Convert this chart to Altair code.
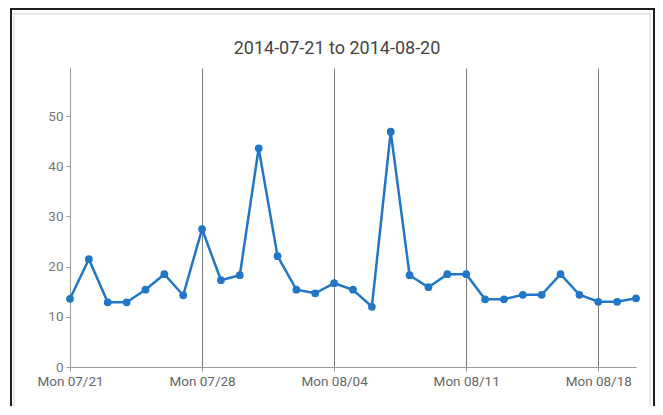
import altair as alt
import pandas as pd

dates = ["2014-07-21", "2014-07-22", "2014-07-23", "2014-07-24", "2014-07-25",
         "2014-07-26", "2014-07-27", "2014-07-28", "2014-07-29", "2014-07-30",
         "2014-07-31", "2014-08-01", "2014-08-02", "2014-08-03", "2014-08-04",
         "2014-08-05", "2014-08-06", "2014-08-07", "2014-08-08", "2014-08-09",
         "2014-08-10", "2014-08-11", "2014-08-12", "2014-08-13", "2014-08-14",
         "2014-08-15", "2014-08-16", "2014-08-17", "2014-08-18", "2014-08-19",
         "2014-08-20"]
values = [13.6, 21.5, 12.9, 12.9, 15.4, 18.5, 14.3, 27.5, 17.3, 18.3,
          43.6, 22.1, 15.4, 14.7, 16.7, 15.4, 12.0, 46.9, 18.3, 15.9,
          18.5, 18.5, 13.5, 13.5, 14.4, 14.4, 18.5, 14.4, 13.0, 13.0, 13.7]
mondays = ["2014-07-21", "2014-07-28", "2014-08-04", "2014-08-11", "2014-08-18"]
y_ticks = [0, 10, 20, 30, 40, 50]
title_text = "2014-07-21 to 2014-08-20"

df = pd.DataFrame({"date": dates, "value": values})
title_df = pd.DataFrame({"label": [title_text]})

def dt(s):
    y, m, d = [int(p) for p in s.split("-")]
    return alt.DateTime(year=y, month=m, date=d, utc=True)

x = alt.X(
    "date:T",
    scale=alt.Scale(type="utc", domain=[dt(dates[0]), dt(dates[-1])]),
    axis=alt.Axis(
        values=[dt(m) for m in mondays],
        format="%a %m/%d",
        title=None,
        grid=True,
        gridColor="#7a7a7a",
        gridWidth=1,
        gridOpacity=1,
        domainColor="#9a9a9a",
        tickColor="#9a9a9a",
        tickSize=4,
        labelColor="#666666",
        labelFontSize=13.5,
        labelFont="Roboto",
        labelPadding=3,
        labelFlush=False,
        labelOverlap=False,
    ),
)
y = alt.Y(
    "value:Q",
    scale=alt.Scale(domain=[0, 59.6], nice=False),
    axis=alt.Axis(
        values=y_ticks,
        title=None,
        grid=False,
        domainColor="#9a9a9a",
        tickColor="#9a9a9a",
        tickSize=4,
        labelColor="#777777",
        labelFontSize=13.5,
        labelFont="Roboto",
        labelPadding=3,
    ),
)

line = alt.Chart(df).mark_line(
    color="#2176c6",
    strokeWidth=2.5,
    point=alt.OverlayMarkDef(filled=True, size=60, color="#2176c6", opacity=1),
).encode(x=x, y=y)

# decorative frames around the whole chart (pixel offsets from plot origin)
inner_frame = alt.Chart(title_df).mark_rect(
    fill="transparent", stroke="#e4e4e4", strokeWidth=1.5, clip=False
).encode(
    x=alt.value(-56), x2=alt.value(580), y=alt.value(-54), y2=alt.value(345)
)
outer_frame = alt.Chart(title_df).mark_rect(
    fill="transparent", stroke="#1e1e1e", strokeWidth=2, clip=False
).encode(
    x=alt.value(-59), x2=alt.value(584), y=alt.value(-59), y2=alt.value(360)
)
title = alt.Chart(title_df).mark_text(
    font="Roboto", fontSize=18, color="#444444", align="center",
    baseline="alphabetic", clip=False
).encode(
    text="label:N", x=alt.value(267), y=alt.value(-14)
)

chart = (
    alt.layer(inner_frame, outer_frame, title, line)
    .properties(
        width=566,
        height=299,
        autosize=alt.AutoSizeParams(type="none"),
        padding={"left": 62, "top": 60, "right": 19, "bottom": 39},
    )
    .configure(background="white")
    .configure_view(stroke="transparent", strokeWidth=0)
)

chart.save("out.html", embed_options={"renderer": "svg", "actions": False})
